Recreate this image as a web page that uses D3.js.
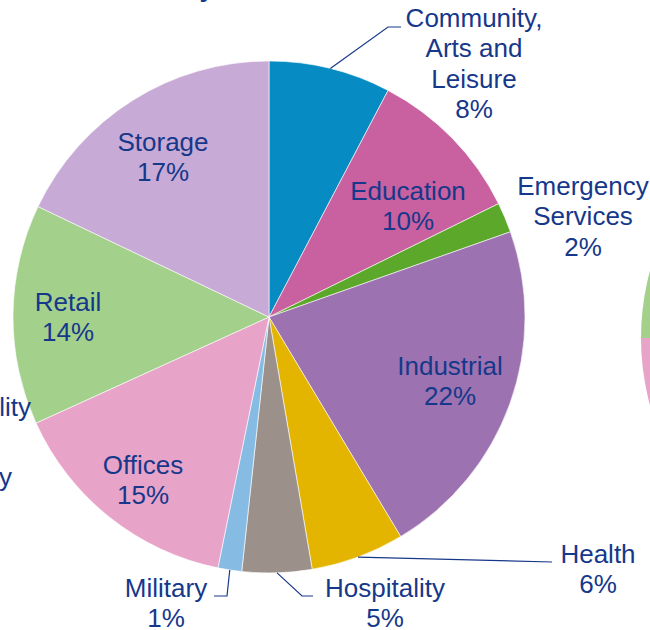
<!DOCTYPE html>
<html>
<head>
<meta charset="utf-8">
<script src="https://cdn.jsdelivr.net/npm/d3@7"></script>
<style>
  html, body { margin: 0; padding: 0; background: #fff; overflow: hidden; }
  svg { display: block; }
  text { font-family: "Liberation Sans", Arial, sans-serif; }
</style>
</head>
<body>
<svg id="chart" width="650" height="630"></svg>
<script>
// ---- data ----
const categories = ["Community, Arts and Leisure", "Education", "Emergency Services", "Industrial",
  "Health", "Hospitality", "Military", "Offices", "Retail", "Storage"];
const shares = [7.7, 10.0, 1.9, 21.8, 5.9, 4.4, 1.5, 15.0, 13.9, 17.9];
const percentLabels = ["8%", "10%", "2%", "22%", "6%", "5%", "1%", "15%", "14%", "17%"];
const labelLines = [["Community,", "Arts and", "Leisure"], ["Education"], ["Emergency", "Services"],
  ["Industrial"], ["Health"], ["Hospitality"], ["Military"], ["Offices"], ["Retail"], ["Storage"]];

// ---- styles / layout ----
const colors = ["#068BC2", "#C9609F", "#5BA82B", "#9D72B0", "#E4B500", "#9B918A",
  "#86BCE4", "#E8A3C8", "#A3D18C", "#C8AAD6"];
const textColor = "#16388A";
const fontSize = 26;
const lineH = 30.3;
const cx = 269, cy = 317, R = 256;
// label anchor (centre x, first baseline y)
const labelPos = [[474, 27], [408, 200], [583, 195], [450, 375], [598, 563],
  [385, 597], [166, 597], [143, 474], [68, 311], [163, 151]];
// leader lines (polyline points) for outside labels, start at arc midpoint
const leaders = {
  0: [[388, 27], [401, 27]],
  4: [[552, 562]],
  5: [[302, 596], [313, 596]],
  6: [[227, 596], [214, 596]]
};

const svg = d3.select("#chart");

const pie = d3.pie().sort(null).value(d => d)(shares);
const arc = d3.arc().innerRadius(0).outerRadius(R);
const color = d3.scaleOrdinal().domain(categories).range(colors);

// partial neighbouring pie on the right
const rightG = svg.append("g").attr("transform", `translate(${cx + 628},${cy + 21}) rotate(24.5)`);
rightG.selectAll("path").data(pie).join("path")
  .attr("d", arc)
  .attr("fill", (d, i) => color(categories[i]));

// main pie
const g = svg.append("g").attr("transform", `translate(${cx},${cy})`);
g.selectAll("path").data(pie).join("path")
  .attr("d", arc)
  .attr("fill", (d, i) => color(categories[i]))
  .attr("stroke", "#fff")
  .attr("stroke-width", 0.6);

// leader lines
Object.entries(leaders).forEach(([k, pts]) => {
  const d = pie[+k];
  const mid = (d.startAngle + d.endAngle) / 2;
  const start = [cx + R * Math.sin(mid), cy - R * Math.cos(mid)];
  svg.append("path")
    .attr("d", d3.line()([start, ...pts]))
    .attr("fill", "none")
    .attr("stroke", textColor)
    .attr("stroke-width", 1.2);
});

// labels
categories.forEach((c, i) => {
  const lines = labelLines[i].concat([percentLabels[i]]);
  const t = svg.append("text")
    .attr("text-anchor", "middle")
    .attr("fill", textColor)
    .attr("font-size", fontSize);
  lines.forEach((ln, j) => {
    t.append("tspan").attr("x", labelPos[i][0]).attr("y", labelPos[i][1] + j * lineH).text(ln);
  });
});

// cut-off labels of neighbouring chart on the left
svg.append("text").attr("x", 31).attr("y", 416).attr("text-anchor", "end")
  .attr("fill", textColor).attr("font-size", fontSize).text("Hospitality");
svg.append("text").attr("x", 12).attr("y", 486).attr("text-anchor", "end")
  .attr("fill", textColor).attr("font-size", fontSize).text("Military");

// cut-off title fragment at top
svg.append("text").attr("x", 214).attr("y", -3).attr("text-anchor", "end")
  .attr("fill", textColor).attr("font-size", 26).attr("font-weight", "bold").text("by");
</script>
</body>
</html>
